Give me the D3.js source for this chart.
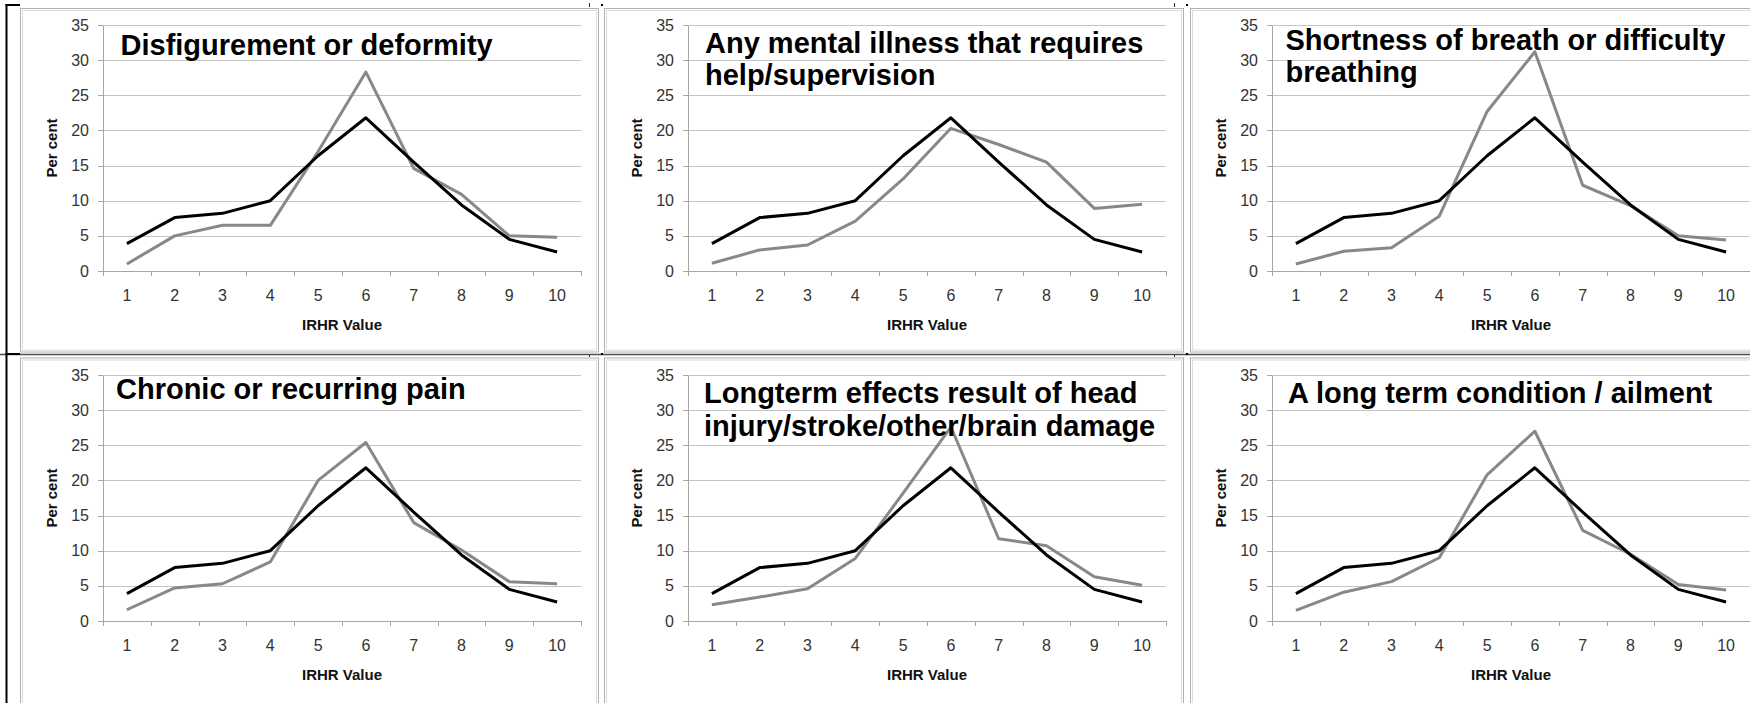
<!DOCTYPE html>
<html lang="en">
    <head>
        <meta charset="utf-8">
        <title>IRHR by condition</title>
        <style>
            body, html {
                margin: 0;
                padding: 0;
                background: white;
            }
            svg {
                display: block;
                font-family: "Liberation Sans", Arial, sans-serif;
            }
            .axis text {
                font-size: 16px;
                fill: #333;
            }
            .axis path, .axis line {
                stroke: #a6a6a6;
                shape-rendering: crispEdges;
            }
            .grid line {
                stroke: #c4c4c4;
                shape-rendering: crispEdges;
            }
            .grid path {
                display: none;
            }
            .axis-title {
                font-size: 15px;
                font-weight: bold;
                fill: #111;
            }
            .panel-title {
                font-size: 29px;
                font-weight: bold;
                fill: #000;
            }
        </style>
        <script src="https://d3js.org/d3.v7.min.js"></script>
    </head>
    <body>
        <svg id="chart" width="1750" height="703"></svg>
        <script type="text/javascript">
            // x categories and y ticks
            var irhrValues = [1, 2, 3, 4, 5, 6, 7, 8, 9, 10];
            var yTicks = [0, 5, 10, 15, 20, 25, 30, 35];

            // black line, same in every panel
            var allRespondents = [3.9, 7.6, 8.2, 10.0, 16.4, 21.8, 15.5, 9.4, 4.5, 2.7];

            // grey line, one per condition
            var disfigurement = [1.0, 5.0, 6.5, 6.5, 17.0, 28.3, 14.6, 10.9, 5.0, 4.8];
            var mentalIllness = [1.1, 3.0, 3.7, 7.1, 13.1, 20.3, 18.0, 15.5, 8.9, 9.5];
            var breathing = [1.0, 2.8, 3.3, 7.8, 22.7, 31.2, 12.2, 9.3, 5.0, 4.4];
            var chronicPain = [1.6, 4.7, 5.3, 8.4, 20.0, 25.4, 14.0, 10.1, 5.6, 5.3];
            var headInjury = [2.3, 3.4, 4.6, 8.9, 18.2, 27.6, 11.7, 10.7, 6.3, 5.1];
            var longTermCondition = [1.5, 4.1, 5.6, 9.0, 20.8, 27.0, 12.9, 9.5, 5.2, 4.4];

            var panelTitles = [
                ["Disfigurement or deformity"],
                ["Any mental illness that requires", "help/supervision"],
                ["Shortness of breath or difficulty", "breathing"],
                ["Chronic or recurring pain"],
                ["Longterm effects result of head", "injury/stroke/other/brain damage"],
                ["A long term condition / ailment"]
            ];
            var greySeries = [disfigurement, mentalIllness, breathing, chronicPain, headInjury, longTermCondition];

            // layout
            var plotLeft = [103, 688, 1272],
                plotTop = [25, 375],
                plotW = 478,
                plotH = 246;
            var boxX = [[20, 598], [604, 1183], [1190, 1770]],
                boxY = [[8, 351.5], [357.5, 720]];
            // title offset from plot corner: [dx, baseline dy, line gap]
            var titleOffset = [[17.5, 30, 32], [17, 28, 32], [13.5, 24.5, 32.5],
                               [13, 24, 32], [16, 28.3, 32.7], [16, 28.3, 32]];

            var svg = d3.select("#chart");

            var x = d3.scaleBand().domain(irhrValues).range([0, plotW]);
            var y = d3.scaleLinear().domain([0, 35]).range([plotH, 0]);

            // panel frames
            var frames = svg.append("g").attr("class", "frames");
            boxY.forEach(function(by) {
                boxX.forEach(function(bx) {
                    frames.append("rect")
                        .attr("x", bx[0] + 0.5).attr("y", by[0] + 0.5)
                        .attr("width", bx[1] - bx[0]).attr("height", by[1] - by[0])
                        .attr("fill", "none").attr("stroke", "#b0b0b0");
                    frames.append("rect")
                        .attr("x", bx[0] + 2.5).attr("y", by[0] + 2.5)
                        .attr("width", bx[1] - bx[0] - 4).attr("height", by[1] - by[0] - 4)
                        .attr("fill", "none").attr("stroke", "#dcdcdc");
                });
            });

            // row separator and left bracket
            frames.append("line")
                .attr("x1", 0).attr("x2", 1750).attr("y1", 354.5).attr("y2", 354.5)
                .attr("stroke", "#4d4d4d").attr("stroke-width", 1.5);
            frames.append("line")
                .attr("x1", 6.5).attr("x2", 6.5).attr("y1", 4).attr("y2", 703)
                .attr("stroke", "#000").attr("stroke-width", 2);
            frames.append("line")
                .attr("x1", 5.5).attr("x2", 20).attr("y1", 5).attr("y2", 5)
                .attr("stroke", "#000").attr("stroke-width", 2);
            frames.append("line")
                .attr("x1", 5.5).attr("x2", 20).attr("y1", 354).attr("y2", 354)
                .attr("stroke", "#000").attr("stroke-width", 2);
            [589, 1174].forEach(function(mx) {
                frames.append("rect").attr("x", mx).attr("y", 3).attr("width", 1).attr("height", 4).attr("fill", "#333");
                frames.append("rect").attr("x", mx + 12).attr("y", 4).attr("width", 2).attr("height", 2).attr("fill", "#000");
                frames.append("rect").attr("x", mx).attr("y", 354).attr("width", 1).attr("height", 3).attr("fill", "#333");
                frames.append("rect").attr("x", mx + 12).attr("y", 353).attr("width", 2).attr("height", 2).attr("fill", "#000");
            });

            var line = d3.line()
                .x(function(d, i) { return x(irhrValues[i]) + x.bandwidth() / 2; })
                .y(function(d) { return y(d); });

            function drawPanel(idx) {
                var col = idx % 3,
                    row = Math.floor(idx / 3);
                var g = svg.append("g")
                    .attr("transform", "translate(" + plotLeft[col] + "," + plotTop[row] + ")");

                // gridlines
                g.append("g")
                    .attr("class", "grid")
                    .call(d3.axisLeft(y).tickValues(yTicks.slice(1)).tickSize(-plotW).tickFormat(""));

                // y axis
                g.append("g")
                    .attr("class", "axis")
                    .call(d3.axisLeft(y).tickValues(yTicks).tickSize(5).tickPadding(9).tickSizeOuter(0));

                // x axis, labels at band centers
                var xAxis = g.append("g")
                    .attr("class", "axis")
                    .attr("transform", "translate(0," + plotH + ")")
                    .call(d3.axisBottom(x).tickSize(0).tickPadding(19).tickSizeOuter(0));

                // tick marks between categories
                var bounds = irhrValues.map(function(v) { return x(v); }).concat([x.range()[1]]);
                xAxis.selectAll("line.bound")
                    .data(bounds)
                    .enter().append("line")
                    .attr("class", "bound")
                    .attr("x1", function(d) { return Math.round(d) + 0.5; })
                    .attr("x2", function(d) { return Math.round(d) + 0.5; })
                    .attr("y1", 0).attr("y2", 5);

                g.append("text")
                    .attr("class", "axis-title")
                    .attr("text-anchor", "middle")
                    .attr("transform", "translate(-46," + (plotH / 2) + ") rotate(-90)")
                    .text("Per cent");

                g.append("text")
                    .attr("class", "axis-title")
                    .attr("text-anchor", "middle")
                    .attr("x", plotW / 2)
                    .attr("y", plotH + 59)
                    .text("IRHR Value");

                g.append("path")
                    .datum(greySeries[idx])
                    .attr("d", line)
                    .attr("fill", "none")
                    .attr("stroke", "#888")
                    .attr("stroke-width", 3)
                    .attr("stroke-linejoin", "round");

                g.append("path")
                    .datum(allRespondents)
                    .attr("d", line)
                    .attr("fill", "none")
                    .attr("stroke", "#000")
                    .attr("stroke-width", 3)
                    .attr("stroke-linejoin", "round");

                var off = titleOffset[idx];
                var title = g.append("text")
                    .attr("class", "panel-title")
                    .attr("x", off[0])
                    .attr("y", off[1]);
                title.selectAll("tspan")
                    .data(panelTitles[idx])
                    .enter().append("tspan")
                    .attr("x", off[0])
                    .attr("dy", function(d, i) { return i === 0 ? 0 : off[2]; })
                    .text(function(d) { return d; });
            }

            for (var i = 0; i < 6; i++) {
                drawPanel(i);
            }
        </script>
    </body>
</html>
